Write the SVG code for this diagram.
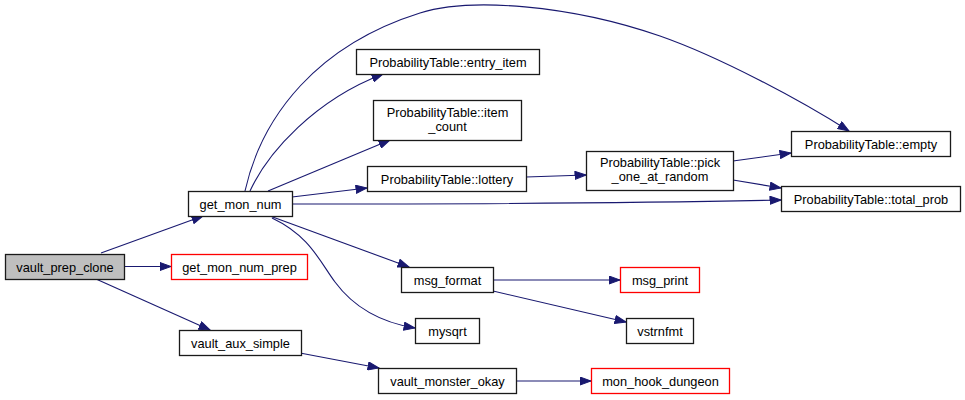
<svg xmlns="http://www.w3.org/2000/svg" width="965" height="400" viewBox="0 0 965 400">
<defs>
<marker id="arr" markerUnits="userSpaceOnUse" markerWidth="12" markerHeight="9" viewBox="0 0 12 9" refX="11.5" refY="4.5" orient="auto">
<path d="M0.5,0.5 L11.5,4.5 L0.5,8.5 z" fill="#191970" stroke="#191970" stroke-width="1"/>
</marker>
<style>
.n rect{fill:#fff;stroke:#1a1a1a;stroke-width:1.3}
.n.r rect{stroke:#ff0000}
.n.g rect{fill:#bfbfbf}
.n text{font-family:"Liberation Sans",Arial,sans-serif;font-size:12.8px;text-anchor:middle;fill:#000}
#edges path{fill:none;stroke:#191970;stroke-width:1.1;marker-end:url(#arr)}
</style>
</defs>
<rect width="965" height="400" fill="#fff"/>
<g id="edges">
<path d="M101,253 L203,216"/>
<path d="M124,266.5 L171,266.5"/>
<path d="M96,279 L210,330"/>
<path d="M245,191 C262,115 318,45 420,13 C470,-3 570,5 660,36 C720,57 800,100 849,131"/>
<path d="M250,191 C268,152 315,100 383,74"/>
<path d="M268,191 L390,140"/>
<path d="M292,197 L367,188"/>
<path d="M292,204 C450,204 650,203 781,200"/>
<path d="M270,216 L409,267"/>
<path d="M272,218 C310,236 320,262 335,282 C352,305 378,322 415,328"/>
<path d="M526,177 L586,175"/>
<path d="M733,161 L791,153"/>
<path d="M733,180 L781,188"/>
<path d="M493,280 L620,280"/>
<path d="M493,291 L626,322"/>
<path d="M300,353 L379,368"/>
<path d="M516,381 L591,381"/>
</g>
<g id="vault_prep_clone" class="n g"><rect x="5.5" y="254.5" width="119" height="25"/><text x="65" y="271.5">vault_prep_clone</text></g>
<g id="get_mon_num" class="n"><rect x="188.5" y="191.5" width="104" height="25"/><text x="240.5" y="208.5">get_mon_num</text></g>
<g id="get_mon_num_prep" class="n r"><rect x="171.5" y="254.5" width="136" height="25"/><text x="239.5" y="271.5">get_mon_num_prep</text></g>
<g id="vault_aux_simple" class="n"><rect x="179.5" y="330.5" width="122" height="25"/><text x="240.5" y="347.5">vault_aux_simple</text></g>
<g id="entry_item" class="n"><rect x="356.5" y="49.5" width="183" height="25"/><text x="448" y="66.5">ProbabilityTable::entry_item</text></g>
<g id="item_count" class="n"><rect x="373.5" y="100.5" width="148" height="40"/><text x="447.5" y="116.5">ProbabilityTable::item</text><text x="447.5" y="131">_count</text></g>
<g id="lottery" class="n"><rect x="367.5" y="166.5" width="159" height="25"/><text x="447" y="183.5">ProbabilityTable::lottery</text></g>
<g id="pick_one_at_random" class="n"><rect x="586.5" y="151.5" width="147" height="39"/><text x="660" y="166.5">ProbabilityTable::pick</text><text x="660" y="181">_one_at_random</text></g>
<g id="empty" class="n"><rect x="791.5" y="131.5" width="159" height="25"/><text x="871" y="148.5">ProbabilityTable::empty</text></g>
<g id="total_prob" class="n"><rect x="781.5" y="186.5" width="179" height="25"/><text x="871" y="203.5">ProbabilityTable::total_prob</text></g>
<g id="msg_format" class="n"><rect x="401.5" y="267.5" width="92" height="25"/><text x="447.5" y="284.5">msg_format</text></g>
<g id="msg_print" class="n r"><rect x="620.5" y="267.5" width="79" height="25"/><text x="660" y="284.5">msg_print</text></g>
<g id="mysqrt" class="n"><rect x="415.5" y="318.5" width="64" height="25"/><text x="447.5" y="335.5">mysqrt</text></g>
<g id="vstrnfmt" class="n"><rect x="626.5" y="318.5" width="67" height="25"/><text x="660" y="335.5">vstrnfmt</text></g>
<g id="vault_monster_okay" class="n"><rect x="378.5" y="368.5" width="138" height="25"/><text x="447.5" y="385.5">vault_monster_okay</text></g>
<g id="mon_hook_dungeon" class="n r"><rect x="591.5" y="368.5" width="138" height="25"/><text x="660.5" y="385.5">mon_hook_dungeon</text></g>
</svg>
